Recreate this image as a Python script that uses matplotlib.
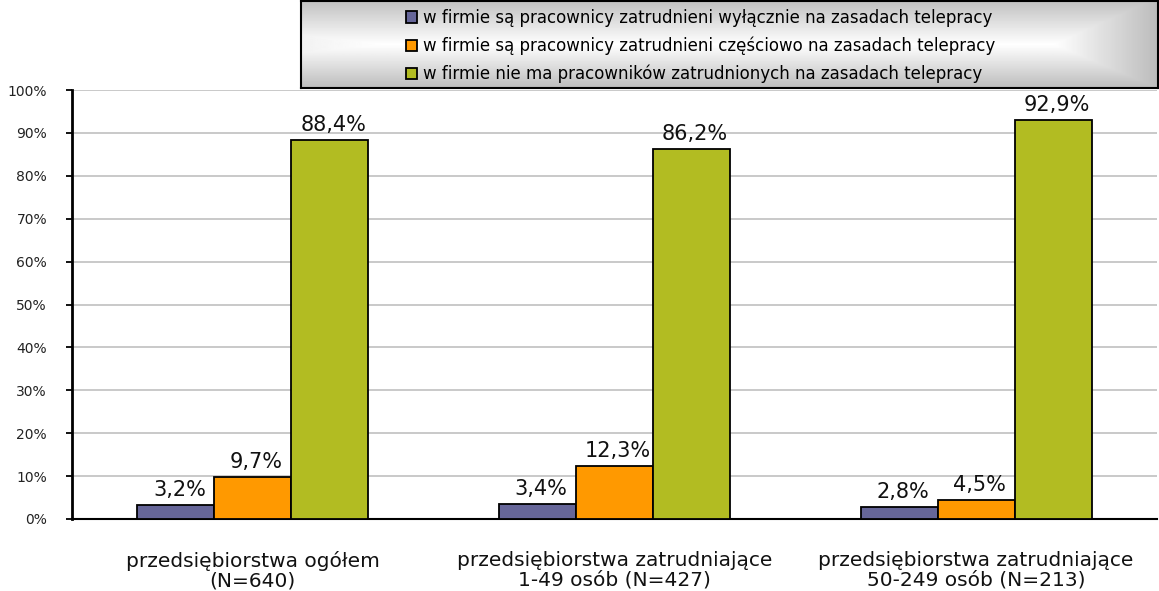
import numpy as np
import matplotlib
matplotlib.use("Agg")
import matplotlib.pyplot as plt

# ----> Data <----
categories = ["przedsiębiorstwa ogółem\n(N=640)",
              "przedsiębiorstwa zatrudniające\n1-49 osób (N=427)",
              "przedsiębiorstwa zatrudniające\n50-249 osób (N=213)"]
series_names = ["w firmie są pracownicy zatrudnieni wyłącznie na zasadach telepracy",
                "w firmie są pracownicy zatrudnieni częściowo na zasadach telepracy",
                "w firmie nie ma pracowników zatrudnionych na zasadach telepracy"]
only_tele = [3.2, 3.4, 2.8]
partly_tele = [9.7, 12.3, 4.5]
no_tele = [88.4, 86.2, 92.9]
colors = ["#666699", "#FF9900", "#B2BC22"]

plt.rcParams['font.family'] = ['DejaVu Sans']

fig = plt.figure(figsize=(11.59, 5.91), dpi=100)
W, H = 1159, 591
ax = fig.add_axes([72 / W, 1 - 519 / H, 1085 / W, 429 / H])

x = np.arange(len(categories))
width = 0.213
values = [only_tele, partly_tele, no_tele]
bars = []
for i, (vals, col) in enumerate(zip(values, colors)):
    b = ax.bar(x + (i - 1) * width, vals, width, color=col, edgecolor="black",
               linewidth=1.3, zorder=3, label=series_names[i])
    bars.append(b)
    for xi, v in zip(x + (i - 1) * width, vals):
        ax.text(xi + 0.01, v + 1.2, f"{v:.1f}%".replace(".", ","), ha="center", va="bottom",
                fontsize=15, color="#111111")

ax.set_xlim(-0.5, 2.5)
ax.set_ylim(0, 100)
ax.set_yticks(np.arange(0, 101, 10))
ax.set_yticklabels([f"{t}%" for t in range(0, 101, 10)], fontsize=10, color="#222222")
ax.set_xticks(x)
ax.set_xticklabels(categories, fontsize=14.5, linespacing=1.05, color="#111111")
ax.tick_params(axis="x", length=0, pad=23)
ax.tick_params(axis="y", length=4, width=1.3, pad=14)
ax.grid(axis="y", color="#c0c0c0", linewidth=1.2, zorder=0)
for s in ["top", "right"]:
    ax.spines[s].set_visible(False)
ax.spines["left"].set_linewidth(2)
ax.spines["bottom"].set_linewidth(1.5)

# ----> Legend box with gradient <----
lax = fig.add_axes([301 / W, 1 - 88 / H, 857 / W, 87 / H])
vert = np.interp(np.linspace(0, 1, 100), [0, 0.5, 1], [0.76, 1.0, 0.74])
horz = np.interp(np.linspace(0, 1, 400), [0, 0.1, 0.88, 1], [0.95, 1.0, 1.0, 0.74])
shade = np.minimum(vert[:, None], horz[None, :])
lax.imshow(shade, cmap="gray", vmin=0, vmax=1, aspect="auto", extent=[0, 1, 0, 1])
lax.set_xticks([])
lax.set_yticks([])
for s in lax.spines.values():
    s.set_linewidth(1.5)

fig.legend(handles=bars, labels=series_names, loc="center left",
           bbox_to_anchor=(398 / W, 1 - 46 / H), frameon=False, fontsize=12,
           handlelength=0.65, handleheight=0.65, handletextpad=0.35,
           labelspacing=0.58, borderpad=0)

fig.savefig("out.png", dpi=100)
